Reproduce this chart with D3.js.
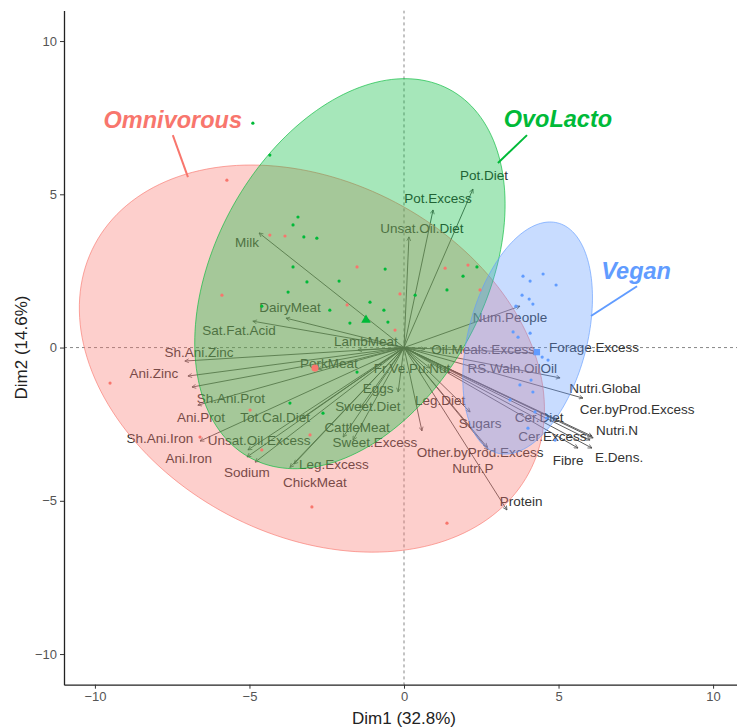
<!DOCTYPE html>
<html><head><meta charset="utf-8">
<script src="https://cdn.jsdelivr.net/npm/d3@7/dist/d3.min.js"></script>
<style>
html,body{margin:0;padding:0;background:#fff;}
svg{display:block;font-family:"Liberation Sans",Arial,sans-serif;}
</style></head>
<body><svg id="c" width="737" height="727"></svg>
<script>
// ---- variables (arrows) : tip coordinates and label anchor in Dim1/Dim2 units ----
const varNames = ["Pot.Diet","Pot.Excess","Unsat.Oil.Diet","Milk","DairyMeat","Sat.Fat.Acid","Sh.Ani.Zinc","Ani.Zinc","Sh.Ani.Prot","Ani.Prot","Tot.Cal.Diet","Sh.Ani.Iron","Unsat.Oil.Excess","Ani.Iron","Sodium","ChickMeat","Leg.Excess","CattleMeat","Sweet.Diet","Sweet.Excess","Eggs","Fr.Ve.Pu.Nut","PorkMeat","LambMeat","Oil.Meals.Excess","Num.People","Forage.Excess","RS.Waln.OilOil","Nutri.Global","Cer.byProd.Excess","Nutri.N","Cer.Diet","Cer.Excess","E.Dens.","Fibre","Sugars","Other.byProd.Excess","Nutri.P","Leg.Diet","Protein"];
const varDim1 = [2.23,0.94,0.16,-4.69,-3.82,-4.89,-7.09,-6.99,-6.86,-6.67,-3.30,-6.60,-5.05,-5.08,-4.82,-3.69,-3.56,-1.97,-1.42,-1.65,-0.19,0.84,-2.78,-1.49,0.68,3.75,4.30,5.05,5.79,6.08,6.12,4.95,6.02,6.08,5.63,2.14,2.72,2.69,0.58,3.33];
const varDim2 = [5.17,4.49,3.61,3.74,0.96,0.86,-0.44,-0.93,-1.29,-1.88,-2.30,-3.05,-3.34,-3.57,-3.74,-3.91,-3.80,-2.92,-1.97,-3.02,-1.45,-0.67,-0.70,-0.08,-0.05,1.35,-0.18,-0.99,-1.65,-2.89,-2.95,-2.37,-3.02,-3.28,-3.28,-2.10,-3.34,-3.25,-2.72,-5.30];
const labDim1 = [2.59,1.10,0.58,-5.08,-3.69,-5.34,-6.63,-8.09,-5.60,-6.57,-4.17,-7.90,-4.69,-6.96,-5.08,-2.88,-2.27,-1.52,-1.17,-0.94,-0.84,0.26,-2.43,-1.23,2.56,3.43,6.15,3.50,6.50,7.54,6.89,4.37,4.80,6.96,5.31,2.46,2.46,2.23,1.17,3.79];
const labDim2 = [5.63,4.88,3.90,3.44,1.32,0.57,-0.15,-0.83,-1.65,-2.27,-2.27,-2.95,-3.02,-3.61,-4.06,-4.39,-3.80,-2.59,-1.91,-3.08,-1.32,-0.67,-0.51,0.21,-0.05,1.00,0.02,-0.67,-1.32,-2.00,-2.69,-2.27,-2.88,-3.57,-3.67,-2.46,-3.41,-3.93,-1.71,-5.01];

// ---- individuals ----
const omniDim1 = [-5.73,-9.51,-2.98,1.39,-5.89,-4.34,-3.85,-1.52,-0.13,1.33,2.07,-1.84,-6.60,-3.04,-4.60,-4.98,2.46,-0.29];
const omniDim2 = [5.46,-1.16,-5.20,-5.73,1.71,3.67,3.64,2.63,1.75,2.59,2.69,1.39,-2.92,-2.85,-3.34,-2.04,1.88,0.57];
const ovoDim1 = [-4.89,-4.34,-3.43,-3.59,-3.24,-2.82,-3.59,-3.14,-2.10,-0.61,-1.10,0.36,1.39,1.91,2.36,-3.75,-0.65,-1.75,-0.52,-1.52,-2.62,-3.69,-4.60,-2.40];
const ovoDim2 = [7.32,6.28,4.26,4.00,3.61,3.57,2.63,2.14,2.17,2.56,1.48,1.71,1.88,2.33,2.63,1.81,1.22,0.80,0.83,-0.80,-2.14,-1.81,1.35,1.22];
const veganDim1 = [3.85,4.08,4.50,4.92,3.82,4.05,4.17,3.62,3.53,3.69,4.08,4.47,4.66,4.11,4.17,3.75,4.24,4.60,4.01,3.43,4.89];
const veganDim2 = [2.33,2.17,2.40,2.04,1.71,1.58,1.42,1.35,0.51,0.34,0.47,-0.31,-0.41,-1.06,-1.45,-1.22,-2.10,-2.30,-2.63,-1.71,-3.02];

// ---- groups ----
const groups = ["Omnivorous","OvoLacto","Vegan"];
const groupColors = ["#F8766D","#00BA38","#619CFF"];
const groupMeanDim1 = [-2.88,-1.23,4.30];
const groupMeanDim2 = [-0.67,0.90,-0.15];
// ellipse: centre, semi-axes and rotation (degrees) in Dim units
const ellCx = [-2.98,-1.75,4.00];
const ellCy = [-0.36,2.41,0.31];
const ellA = [7.95,6.82,3.88];
const ellB = [5.77,4.38,1.92];
const ellAngle = [-28,62,75.5];
// group label anchors and leader lines (Dim units)
const glabX = [-7.48,4.98,7.51];
const glabY = [7.43,7.45,2.50];
const leadX1 = [-7.48,3.98,7.54];
const leadY1 = [6.93,6.93,2.00];
const leadX2 = [-6.99,3.04,6.05];
const leadY2 = [5.56,6.02,1.03];

const ticks = [-10,-5,0,5,10];
const xTitle = "Dim1 (32.8%)";
const yTitle = "Dim2 (14.6%)";

// ---- drawing ----
const svg = d3.select("#c");
const x = d3.scaleLinear().domain([-11,11]).range([64,744]);
const y = d3.scaleLinear().domain([-11,11]).range([684.7,10.4]);

const defs = svg.append("defs");
defs.append("clipPath").attr("id","clip")
  .append("rect").attr("x",64).attr("y",10.4).attr("width",680).attr("height",674.3);
defs.append("marker").attr("id","arr").attr("viewBox","0 0 10 10")
  .attr("refX",9).attr("refY",5).attr("markerWidth",5).attr("markerHeight",5)
  .attr("orient","auto-start-reverse").attr("markerUnits","userSpaceOnUse")
  .append("path").attr("d","M1,1 L9,5 L1,9").attr("fill","none").attr("stroke","#4a4a4a").attr("stroke-width",1.4);

const plot = svg.append("g").attr("clip-path","url(#clip)");

// reference lines
plot.append("line").attr("x1",x(0)).attr("x2",x(0)).attr("y1",y(11)).attr("y2",y(-11))
  .attr("stroke","#555").attr("stroke-width",0.7).attr("stroke-dasharray","3,3");
plot.append("line").attr("x1",x(-11)).attr("x2",x(11)).attr("y1",y(0)).attr("y2",y(0))
  .attr("stroke","#555").attr("stroke-width",0.7).attr("stroke-dasharray","3,3");

// arrows
const vars = varNames.map((n,i)=>({n, x:varDim1[i], y:varDim2[i], lx:labDim1[i], ly:labDim2[i]}));
plot.append("g").selectAll("line").data(vars).join("line")
  .attr("x1",x(0)).attr("y1",y(0)).attr("x2",d=>x(d.x)).attr("y2",d=>y(d.y))
  .attr("stroke","#4a4a4a").attr("stroke-width",0.9).attr("marker-end","url(#arr)");
plot.append("g").selectAll("text").data(vars).join("text")
  .attr("x",d=>x(d.lx)).attr("y",d=>y(d.ly)).attr("dy","0.35em")
  .attr("text-anchor","middle").attr("font-size",13.5).attr("fill","#333")
  .text(d=>d.n);

// ellipses
const line = d3.line().x(d=>x(d[0])).y(d=>y(d[1])).curve(d3.curveLinearClosed);
groups.forEach((g,i)=>{
  const th = ellAngle[i]*Math.PI/180, pts=[];
  for(let k=0;k<180;k++){
    const t = 2*Math.PI*k/180;
    const ex = ellA[i]*Math.cos(t), ey = ellB[i]*Math.sin(t);
    pts.push([ellCx[i]+ex*Math.cos(th)-ey*Math.sin(th), ellCy[i]+ex*Math.sin(th)+ey*Math.cos(th)]);
  }
  plot.append("path").attr("d",line(pts)).attr("fill",groupColors[i]).attr("fill-opacity",0.35)
    .attr("stroke",groupColors[i]).attr("stroke-opacity",0.8).attr("stroke-width",0.8);
});

// points
const pts = [[omniDim1,omniDim2],[ovoDim1,ovoDim2],[veganDim1,veganDim2]];
pts.forEach((p,i)=>{
  plot.append("g").selectAll("circle").data(p[0].map((v,j)=>[v,p[1][j]])).join("circle")
    .attr("cx",d=>x(d[0])).attr("cy",d=>y(d[1])).attr("r",1.6).attr("fill",groupColors[i]);
});
// group means
const sym = [d3.symbolCircle,d3.symbolTriangle,d3.symbolSquare];
groups.forEach((g,i)=>{
  plot.append("path").attr("d",d3.symbol().type(sym[i]).size(40)())
    .attr("transform",`translate(${x(groupMeanDim1[i])},${y(groupMeanDim2[i])})`)
    .attr("fill",groupColors[i]);
});

// group labels
groups.forEach((g,i)=>{
  svg.append("line").attr("x1",x(leadX1[i])).attr("y1",y(leadY1[i])).attr("x2",x(leadX2[i])).attr("y2",y(leadY2[i]))
    .attr("stroke",groupColors[i]).attr("stroke-width",2);
  svg.append("text").attr("x",x(glabX[i])).attr("y",y(glabY[i])).attr("dy","0.35em")
    .attr("text-anchor","middle").attr("font-size",23.5).attr("font-weight","bold").attr("font-style","italic")
    .attr("fill",groupColors[i]).text(g);
});

// axes
const ax = svg.append("g").attr("transform",`translate(0,${y(-11)})`)
  .call(d3.axisBottom(x).tickValues(ticks).tickSize(4).tickSizeOuter(0));
const ay = svg.append("g").attr("transform",`translate(${x(-11)},0)`)
  .call(d3.axisLeft(y).tickValues(ticks).tickSize(4).tickSizeOuter(0));
[ax,ay].forEach(a=>{
  a.select(".domain").attr("stroke","#222").attr("stroke-width",1.3);
  a.selectAll(".tick line").attr("stroke","#333");
  a.selectAll(".tick text").attr("fill","#555").attr("font-size",13).attr("font-family","Liberation Sans, Arial, sans-serif");
});
svg.append("text").attr("x",x(0)).attr("y",724).attr("text-anchor","middle")
  .attr("font-size",17).attr("fill","#222").text(xTitle);
svg.append("text").attr("transform",`translate(27,${y(0)}) rotate(-90)`).attr("text-anchor","middle")
  .attr("font-size",17).attr("fill","#222").text(yTitle);
</script></body></html>
